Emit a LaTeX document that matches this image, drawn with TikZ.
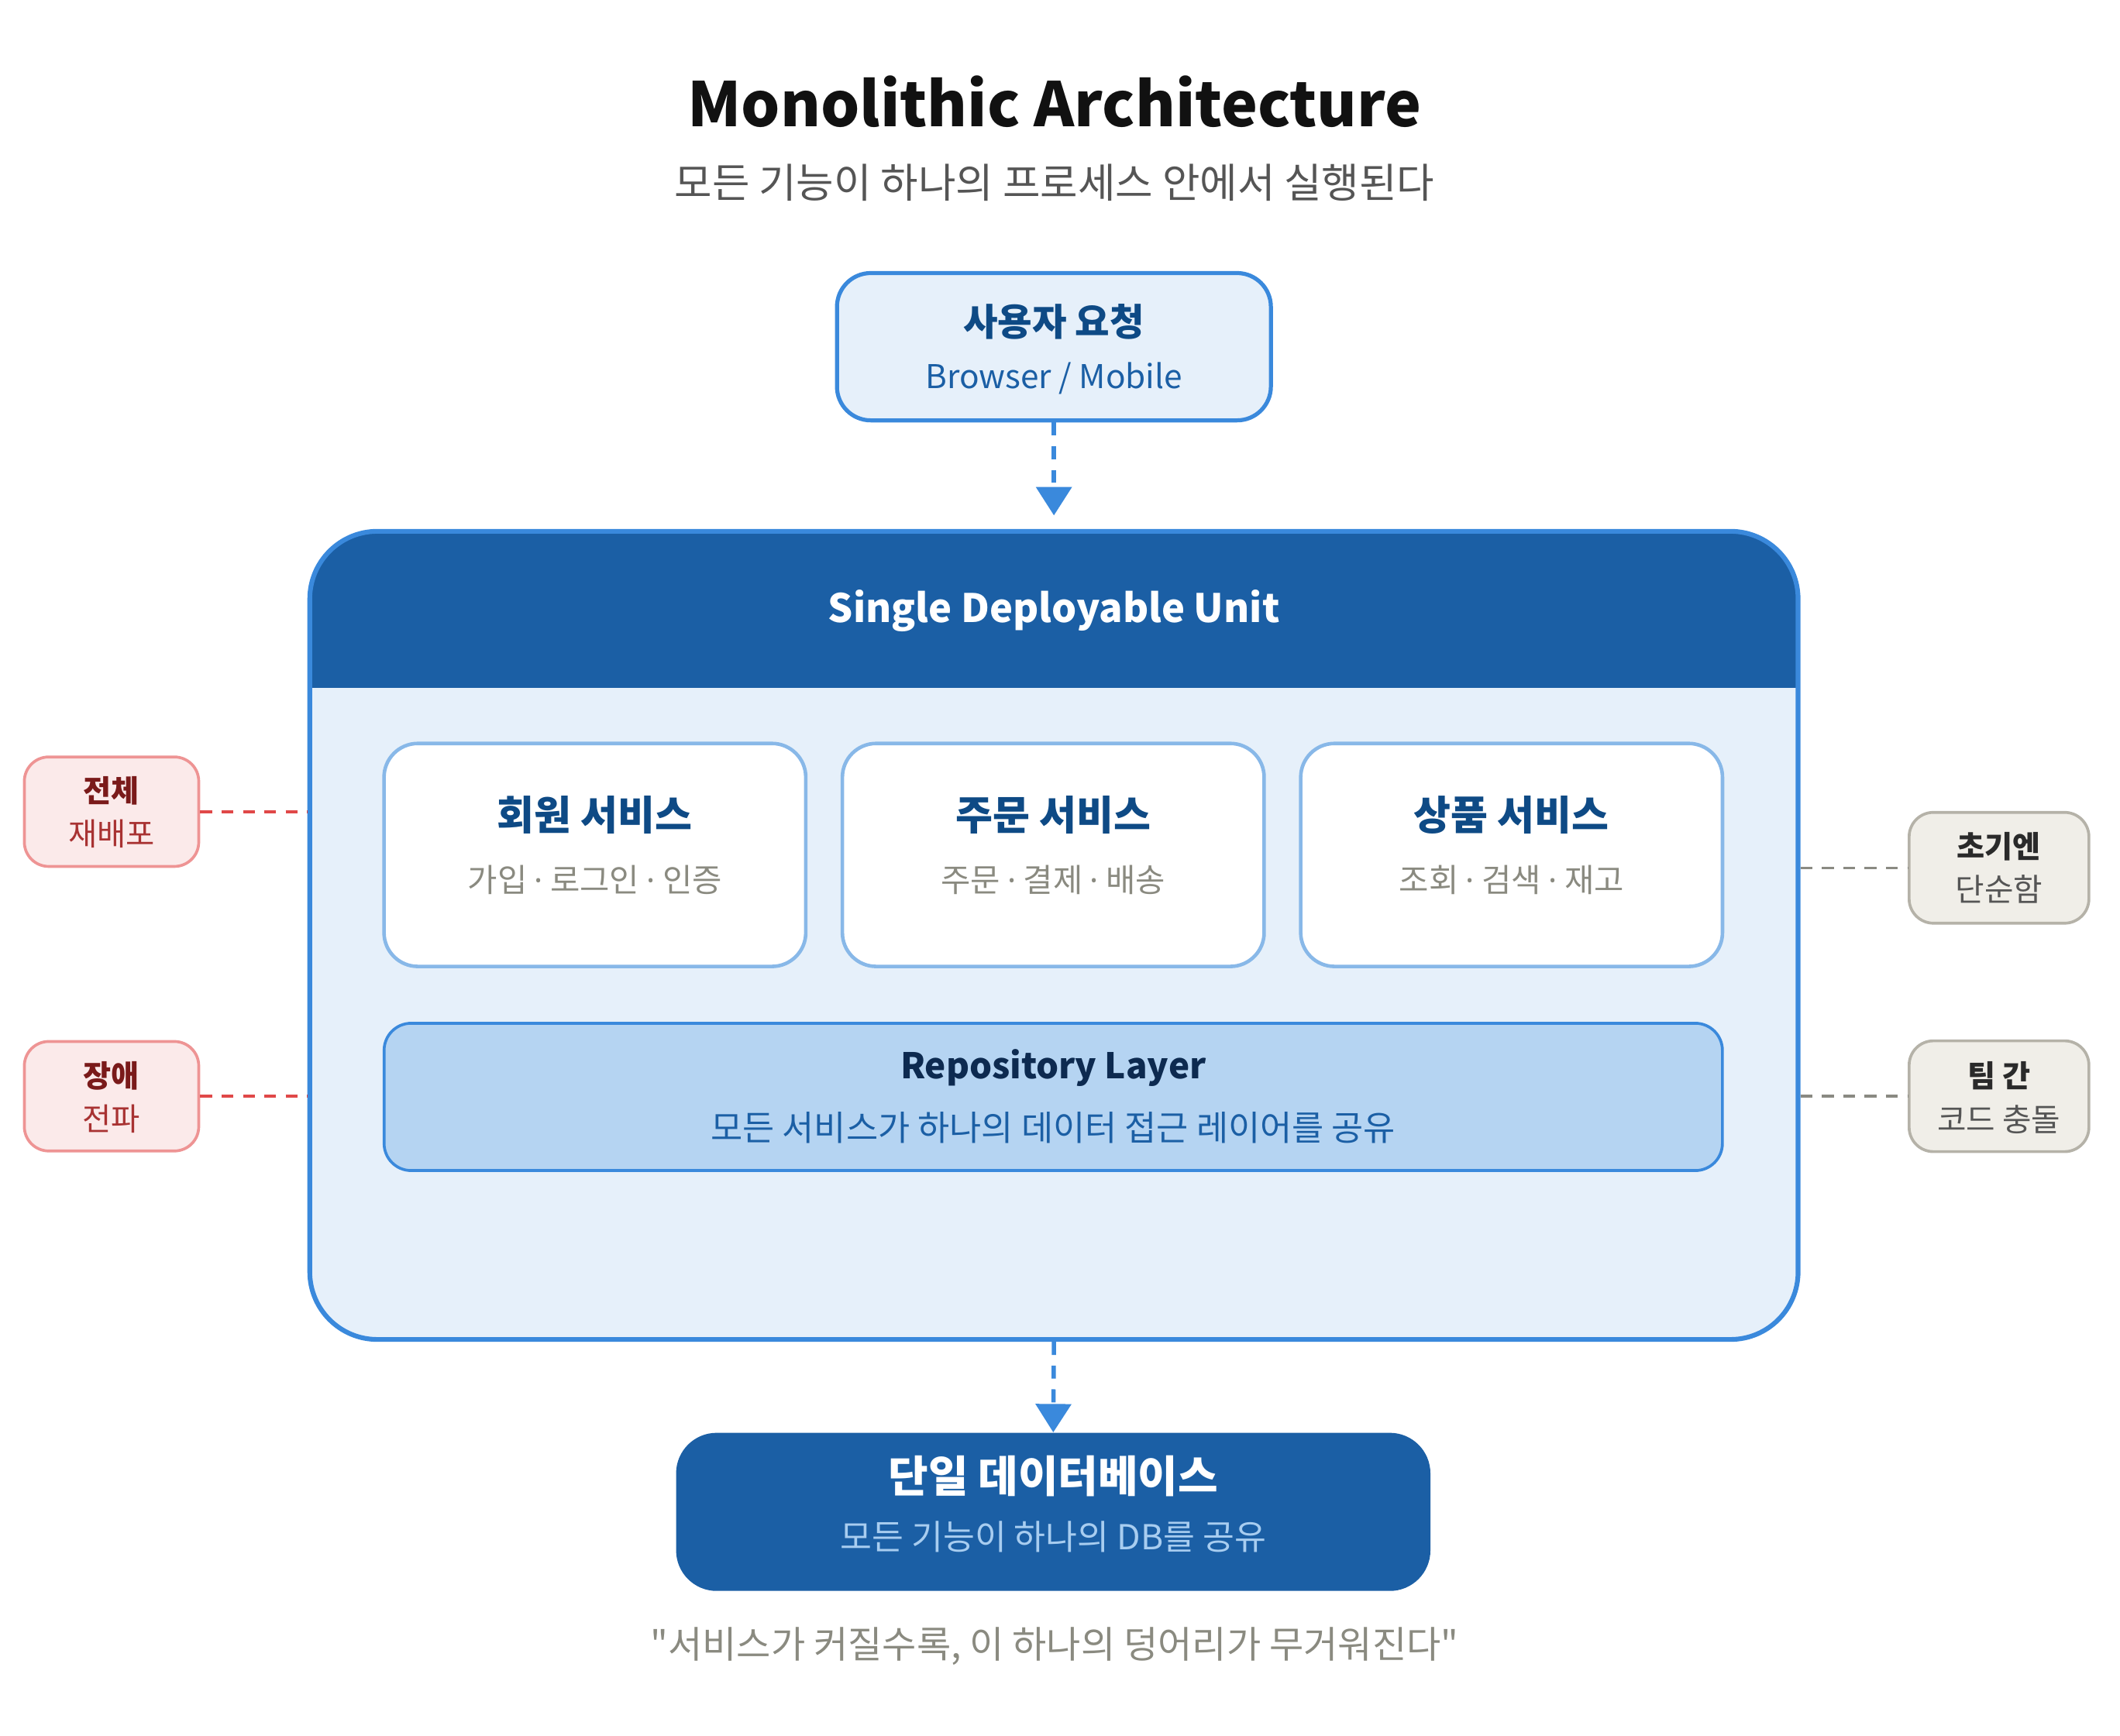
\documentclass[tikz,border=0pt]{standalone}
\usepackage{fontspec}
\setmainfont{Noto Sans CJK KR}[Ligatures=TeXOff]
\newfontfamily\latinf{Noto Sans}
\usetikzlibrary{arrows.meta}
\definecolor{blueline}{HTML}{3A89DC}
\definecolor{lightfill}{HTML}{E6F0FA}
\definecolor{hdr}{HTML}{1B5FA5}
\definecolor{darkblue}{HTML}{0E4A85}
\definecolor{midblue}{HTML}{1B5FA5}
\definecolor{svcborder}{HTML}{88B8E8}
\definecolor{graytext}{HTML}{8A8A80}
\definecolor{repofill}{HTML}{B5D4F2}
\definecolor{navy}{HTML}{0D2A50}
\definecolor{dbsub}{HTML}{A8CDF0}
\definecolor{redfill}{HTML}{FBEAEA}
\definecolor{redborder}{HTML}{EE9494}
\definecolor{redtitle}{HTML}{7A1A1A}
\definecolor{redsub}{HTML}{A83232}
\definecolor{redline}{HTML}{E04848}
\definecolor{grayfill}{HTML}{F0EEE8}
\definecolor{grayborder}{HTML}{B5B2A8}
\definecolor{graytitle}{HTML}{2A2A2A}
\definecolor{graysub}{HTML}{555555}
\definecolor{grayline}{HTML}{8A8A82}
\definecolor{titlecol}{HTML}{111111}
\newcommand{\mdot}{{\latinf ·}}
\begin{document}
\begin{tikzpicture}[x=0.02cm,y=-0.02cm,
  txt/.style={inner sep=0pt, anchor=center},
  userbox/.style={draw=blueline, fill=lightfill, line width=1.7pt, rounded corners=0.5cm, minimum width=6.42cm, minimum height=2.18cm, inner sep=0pt},
  unitbox/.style={draw=blueline, fill=lightfill, line width=2pt, rounded corners=1cm, minimum width=22.02cm, minimum height=11.96cm, inner sep=0pt},
  svcbox/.style={draw=svcborder, fill=white, line width=1.5pt, rounded corners=0.5cm, minimum width=6.24cm, minimum height=3.3cm, inner sep=0pt},
  repobox/.style={draw=blueline, fill=repofill, line width=1.2pt, rounded corners=0.4cm, minimum width=19.8cm, minimum height=2.18cm, inner sep=0pt},
  dbbox/.style={fill=hdr, rounded corners=0.6cm, minimum width=11.16cm, minimum height=2.34cm, inner sep=0pt},
  redbox/.style={draw=redborder, fill=redfill, line width=1.2pt, rounded corners=0.36cm, minimum width=2.58cm, minimum height=1.62cm, inner sep=0pt},
  graybox/.style={draw=grayborder, fill=grayfill, line width=1.2pt, rounded corners=0.36cm, minimum width=2.66cm, minimum height=1.64cm, inner sep=0pt},
  flow/.style={draw=blueline, line width=1.8pt, dash pattern=on 5.5pt off 4.5pt, -{Triangle[length=0.42cm, width=0.52cm]}},
  redlink/.style={draw=redline, line width=1.1pt, dash pattern=on 5pt off 4pt},
  graylink/.style={draw=grayline, line width=1.1pt, dash pattern=on 5pt off 4pt}
]
\useasboundingbox (0,0) rectangle (1568,1284);
\fill[white] (0,0) rectangle (1568,1284);

% title
\node[txt, text=titlecol, font=\fontsize{25.8}{30}\selectfont\bfseries] (title) at (780,75) {Monolithic Architecture};
\node[txt, text=graysub, font=\fontsize{17.2}{20}\selectfont] (subtitle) at (780,135) {모든 기능이 하나의 프로세스 안에서 실행된다};

% user request
\node[userbox] (user) at (779.5,256.5) {};
\node[txt, text=darkblue, font=\fontsize{15.8}{18}\selectfont\bfseries] (usert) at (779.5,238) {사용자 요청};
\node[txt, text=midblue, font=\fontsize{13.8}{16}\selectfont] (users) at (779.5,280) {Browser / Mobile};

% unit
\node[unitbox, path picture={\fill[hdr, sharp corners] (path picture bounding box.north west) rectangle ([yshift=-2.32cm]path picture bounding box.north east);}] (unit) at (779.5,692) {};
\node[txt, text=white, font=\fontsize{16.5}{20}\selectfont\bfseries] (unitt) at (779.5,452) {Single Deployable Unit};

% services
\node[svcbox] (svc1) at (440,632.5) {};
\node[svcbox] (svc2) at (779,632.5) {};
\node[svcbox] (svc3) at (1118,632.5) {};
\node[txt, text=darkblue, font=\fontsize{17}{19}\selectfont\bfseries] (svc1t) at (440,603) {회원 서비스};
\node[txt, text=darkblue, font=\fontsize{17}{19}\selectfont\bfseries] (svc2t) at (779,603) {주문 서비스};
\node[txt, text=darkblue, font=\fontsize{17}{19}\selectfont\bfseries] (svc3t) at (1118,603) {상품 서비스};
\node[txt, text=graytext, font=\fontsize{13.6}{16}\selectfont] (svc1s) at (440,651) {가입 \mdot{} 로그인 \mdot{} 인증};
\node[txt, text=graytext, font=\fontsize{13.6}{16}\selectfont] (svc2s) at (779,651) {주문 \mdot{} 결제 \mdot{} 배송};
\node[txt, text=graytext, font=\fontsize{13.6}{16}\selectfont] (svc3s) at (1118,651) {조회 \mdot{} 검색 \mdot{} 재고};

% repository
\node[repobox] (repo) at (779,811.5) {};
\node[txt, text=navy, font=\fontsize{14.9}{18}\selectfont\bfseries] (repot) at (779,790) {Repository Layer};
\node[txt, text=midblue, font=\fontsize{14.6}{17}\selectfont] (repos) at (779,834) {모든 서비스가 하나의 데이터 접근 레이어를 공유};

% database
\node[dbbox] (db) at (779,1118.5) {};
\node[txt, text=white, font=\fontsize{18.3}{22}\selectfont\bfseries] (dbt) at (779,1092) {단일 데이터베이스};
\node[txt, text=dbsub, font=\fontsize{14.5}{17}\selectfont] (dbs) at (779,1137) {모든 기능이 하나의 DB를 공유};

% quote
\node[txt, text=graytext, font=\fontsize{15.7}{18}\selectfont] (quote) at (780,1218) {"서비스가 커질수록, 이 하나의 덩어리가 무거워진다"};

% side notes
\node[redbox] (red1) at (82.5,600.5) {};
\node[txt, text=redtitle, font=\fontsize{12.8}{15}\selectfont\bfseries] (red1t) at (82.5,585) {전체};
\node[txt, text=redsub, font=\fontsize{13.2}{15}\selectfont] (red1s) at (82.5,617) {재배포};
\node[redbox] (red2) at (82.5,811) {};
\node[txt, text=redtitle, font=\fontsize{12.8}{15}\selectfont\bfseries] (red2t) at (82.5,796) {장애};
\node[txt, text=redsub, font=\fontsize{13.2}{15}\selectfont] (red2s) at (82.5,828) {전파};

\node[graybox] (gray1) at (1478.5,642) {};
\node[txt, text=graytitle, font=\fontsize{12.8}{15}\selectfont\bfseries] (gray1t) at (1478.5,626) {초기엔};
\node[txt, text=graysub, font=\fontsize{13.3}{15}\selectfont] (gray1s) at (1478.5,658) {단순함};
\node[graybox] (gray2) at (1478.5,811) {};
\node[txt, text=graytitle, font=\fontsize{12.8}{15}\selectfont\bfseries] (gray2t) at (1478.5,796) {팀 간};
\node[txt, text=graysub, font=\fontsize{13.3}{15}\selectfont] (gray2s) at (1478.5,828) {코드 충돌};

% connectors
\draw[flow, shorten >=0.2cm] (user.south) -- (unit.north);
\draw[flow] (unit.south) -- (db.north);
\draw[redlink] (red1.east) -- (red1.east -| unit.west);
\draw[redlink] (red2.east) -- (red2.east -| unit.west);
\draw[graylink] (gray1.west -| unit.east) -- (gray1.west);
\draw[graylink] (gray2.west -| unit.east) -- (gray2.west);
\end{tikzpicture}
\end{document}
